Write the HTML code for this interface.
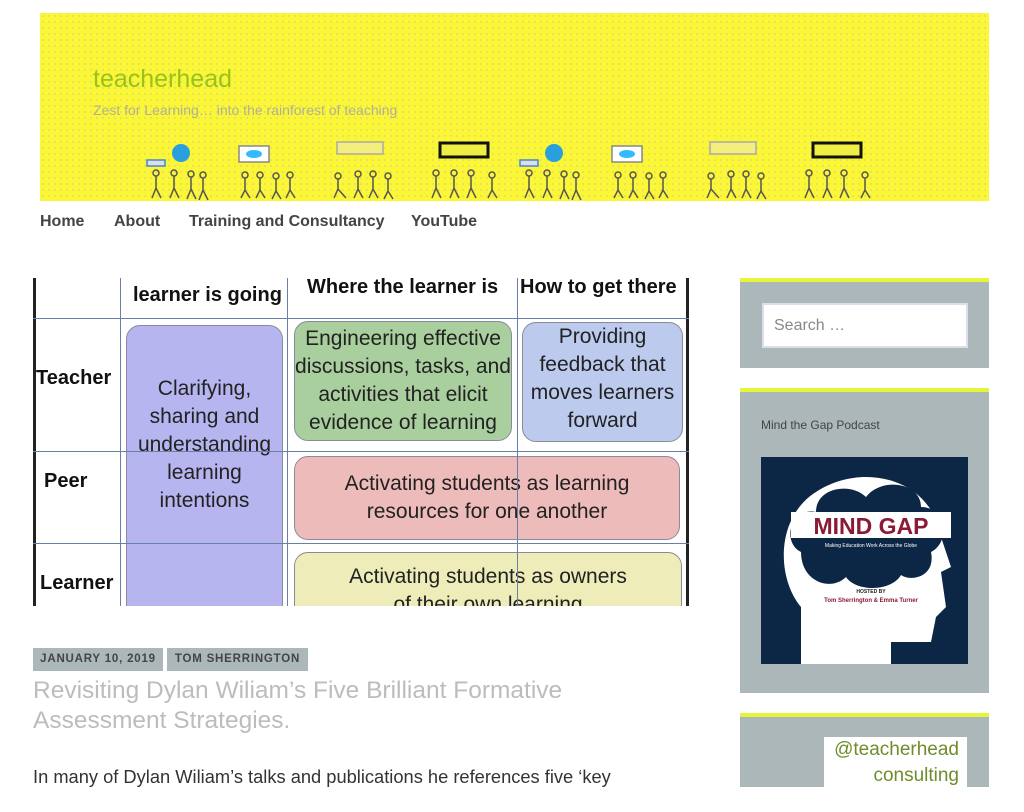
<!DOCTYPE html>
<html><head><meta charset="utf-8"><style>
*{margin:0;padding:0;box-sizing:border-box}
body{width:1024px;height:812px;background:#fff;position:relative;overflow:hidden;font-family:"Liberation Sans",sans-serif}
.a{position:absolute}
#hdr{left:40px;top:13px;width:949px;height:188px;background-color:#fbf636;background-image:radial-gradient(#c8c890 0.6px,transparent 0.9px);background-size:6px 6px}
.nav{top:213px;font-size:16px;font-weight:bold;color:#444}
.box{position:absolute;border-radius:14px;border:1.5px solid #8a8a9a;display:flex;align-items:center;justify-content:center;text-align:center;font-size:21px;color:#222;line-height:28px}
.th{position:absolute;font-size:20px;font-weight:bold;color:#111}
.wid{position:absolute;left:740px;width:249px;background:#abb7b8;border-top:4px solid #e4f53a}
</style></head><body>
<div id="hdr" class="a">
 <div class="a" style="left:53px;top:52px;font-size:25px;color:#98c21d">teacherhead</div>
 <div class="a" style="left:53px;top:89px;font-size:14px;color:#b0b098">Zest for Learning… into the rainforest of teaching</div>
 <svg class="a" style="left:0;top:125px" width="949" height="63">
  <g fill="none" stroke="#555" stroke-width="1.5">
   <g id="g1"><circle cx="141" cy="15" r="9" fill="#29a0dd" stroke="none"/><rect x="107" y="22" width="18" height="6" fill="#dde" stroke="#48c"/>
   <circle cx="116" cy="35" r="3"/><path d="M116 38v12l-4 10M116 50l5 10"/><circle cx="134" cy="35" r="3"/><path d="M134 38v12l-4 10M134 50l5 10"/><circle cx="151" cy="36" r="3"/><path d="M151 39v12l-4 10M151 51l5 10"/><circle cx="163" cy="37" r="3"/><path d="M163 40v12l-4 10M163 52l5 10"/></g>
   <use href="#g1" x="373"/>
   <g id="g2"><rect x="199" y="8" width="30" height="16" fill="#fff" stroke="#888"/><ellipse cx="214" cy="16" rx="8" ry="4" fill="#3bf" stroke="none"/>
   <circle cx="205" cy="37" r="3"/><path d="M205 40v12l-4 8M205 52l5 8"/><circle cx="220" cy="37" r="3"/><path d="M220 40v12l-4 8M220 52l5 8"/><circle cx="236" cy="38" r="3"/><path d="M236 41v12l-4 8M236 53l5 8"/><circle cx="250" cy="37" r="3"/><path d="M250 40v12l-4 8M250 52l5 8"/></g>
   <use href="#g2" x="373"/>
   <g id="g3"><rect x="297" y="4" width="46" height="12" fill="#f4ee80" stroke="#aaa"/>
   <circle cx="298" cy="38" r="3"/><path d="M298 41v10l-4 9M298 51l8 9"/><circle cx="318" cy="36" r="3"/><path d="M318 39v12l-4 9M318 51l5 9"/><circle cx="333" cy="36" r="3"/><path d="M333 39v12l-4 9M333 51l5 9"/><circle cx="348" cy="38" r="3"/><path d="M348 41v12l-4 8M348 53l5 8"/></g>
   <use href="#g3" x="373"/>
   <g id="g4"><rect x="400" y="5" width="48" height="14" fill="#ee4" stroke="#111" stroke-width="3"/>
   <circle cx="396" cy="35" r="3"/><path d="M396 38v12l-4 10M396 50l5 10"/><circle cx="414" cy="35" r="3"/><path d="M414 38v12l-4 10M414 50l5 10"/><circle cx="431" cy="35" r="3"/><path d="M431 38v12l-4 10M431 50l5 10"/><circle cx="452" cy="37" r="3"/><path d="M452 40v12l-4 8M452 52l5 8"/></g>
   <use href="#g4" x="373"/>
  </g>
 </svg>
</div>
<div class="a nav" style="left:40px">Home</div>
<div class="a nav" style="left:114px">About</div>
<div class="a nav" style="left:189px">Training and Consultancy</div>
<div class="a nav" style="left:411px">YouTube</div>

<div class="a" style="left:33px;top:278px;width:656px;height:328px;overflow:hidden;background:#fff">
 <div class="box" style="left:93px;top:47px;width:157px;height:300px;background:#b6b5ef;padding-bottom:60px">Clarifying,<br>sharing and<br>understanding<br>learning<br>intentions</div>
 <div class="box" style="left:261px;top:43px;width:218px;height:120px;background:#a9cf9e">Engineering effective<br>discussions, tasks, and<br>activities that elicit<br>evidence of learning</div>
 <div class="box" style="left:489px;top:44px;width:161px;height:120px;background:#bccaee;align-items:flex-start">Providing<br>feedback that<br>moves learners<br>forward</div>
 <div class="box" style="left:261px;top:178px;width:386px;height:84px;background:#eebbbb">Activating students as learning<br>resources for one another</div>
 <div class="box" style="left:261px;top:274px;width:388px;height:80px;background:#eeecb9;align-items:flex-start;padding-top:10px">Activating students as owners<br>of their own learning</div>
 <div class="a" style="left:0;top:0;width:3px;height:328px;background:#222"></div>
 <div class="a" style="left:653px;top:0;width:3px;height:328px;background:#222"></div>
 <div class="a" style="left:87px;top:0;width:1px;height:328px;background:#6a7fa8"></div>
 <div class="a" style="left:254px;top:0;width:1px;height:328px;background:#6a7fa8"></div>
 <div class="a" style="left:484px;top:0;width:1px;height:328px;background:#6a7fa8"></div>
 <div class="a" style="left:0;top:40px;width:656px;height:1px;background:#6a7fa8"></div>
 <div class="a" style="left:0;top:173px;width:656px;height:1px;background:#6a7fa8"></div>
 <div class="a" style="left:0;top:265px;width:656px;height:1px;background:#6a7fa8"></div>
 <div class="th" style="left:100px;top:6px">learner is going</div>
 <div class="th" style="left:274px;top:-2px">Where the learner is</div>
 <div class="th" style="left:487px;top:-2px">How to get there</div>
 <div class="th" style="left:3px;top:89px">Teacher</div>
 <div class="th" style="left:11px;top:192px">Peer</div>
 <div class="th" style="left:7px;top:294px">Learner</div>
</div>

<div class="a" style="left:33px;top:648px;width:130px;height:23px;background:#abb7b8;font-size:11.5px;font-weight:bold;color:#444;letter-spacing:0.8px;text-align:center;line-height:23px">JANUARY 10, 2019</div>
<div class="a" style="left:167px;top:648px;width:141px;height:23px;background:#abb7b8;font-size:11.5px;font-weight:bold;color:#444;letter-spacing:0.8px;text-align:center;line-height:23px">TOM SHERRINGTON</div>
<div class="a" style="left:33px;top:676px;font-size:24.5px;color:#bcbcbc;line-height:30px;width:600px">Revisiting Dylan Wiliam’s Five Brilliant Formative Assessment Strategies.</div>
<div class="a" style="left:33px;top:766px;font-size:18.3px;color:#333;white-space:nowrap">In many of Dylan Wiliam’s talks and publications he references five ‘key</div>

<div class="wid" style="top:278px;height:90px">
 <div class="a" style="left:22px;top:21px;width:206px;height:45px;background:#fff;border:2px solid #dde;font-size:16px;color:#888;padding:12px 10px">Search …</div>
</div>
<div class="wid" style="top:388px;height:305px">
 <div class="a" style="left:21px;top:26px;font-size:12px;color:#444">Mind the Gap Podcast</div>
 <div class="a" style="left:21px;top:65px;width:207px;height:207px;background:#0c2645;overflow:hidden">
  <svg width="207" height="207"><path d="M40 207 L40 150 C15 120 15 60 55 35 C100 5 170 20 180 80 L190 110 L180 115 L185 150 L175 160 L170 185 L130 185 L130 207Z" fill="#fff"/>
  <path d="M40 95 C20 85 30 50 55 55 C55 30 90 25 105 40 C120 20 160 25 160 50 C185 50 190 85 170 95 C175 120 150 125 140 118 C130 135 95 135 85 120 C70 135 40 125 40 95Z" fill="#0c2645"/>
  <rect x="30" y="55" width="160" height="26" fill="#fff"/>
  <text x="110" y="77" font-size="23" font-weight="bold" fill="#8a1a35" text-anchor="middle" font-family="Liberation Sans">MIND GAP</text>
  <text x="110" y="90" font-size="5" fill="#fff" text-anchor="middle" font-family="Liberation Sans">Making Education Work Across the Globe</text>
  <text x="110" y="136" font-size="5" font-weight="bold" fill="#222" text-anchor="middle" font-family="Liberation Sans">HOSTED BY</text>
  <text x="110" y="145" font-size="6" font-weight="bold" fill="#8a1a35" text-anchor="middle" font-family="Liberation Sans">Tom Sherrington &amp; Emma Turner</text></svg>
 </div>
</div>
<div class="wid" style="top:713px;height:74px">
 <div class="a" style="left:84px;top:20px;width:143px;height:54px;background:#fff;font-size:19px;color:#6e8d2a;text-align:right;padding-right:8px;line-height:26px">@teacherhead<br>consulting</div>
</div>
</body></html>
